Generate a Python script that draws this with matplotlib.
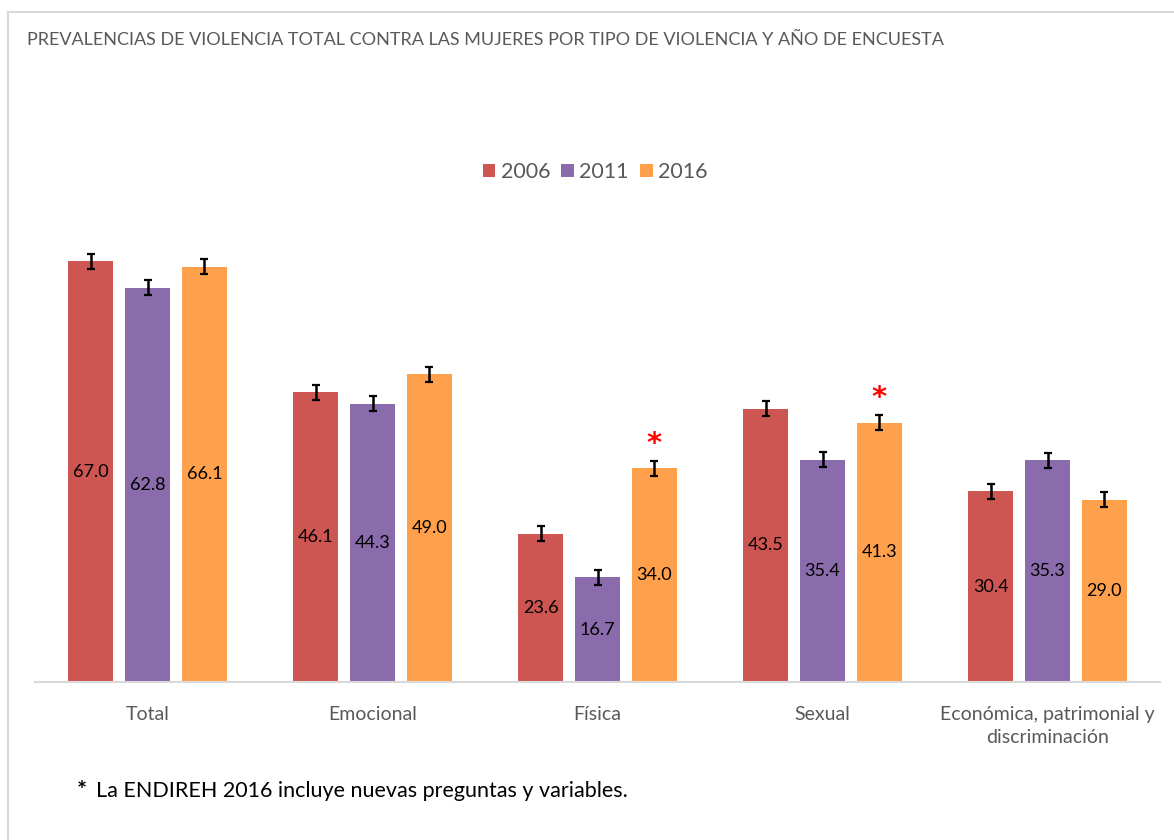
import numpy as np
import matplotlib.pyplot as plt
from matplotlib.lines import Line2D

plt.rcParams["font.family"] = ["Lato", "DejaVu Sans"]

categories = ["Total", "Emocional", "Física", "Sexual",
              "Económica, patrimonial y\ndiscriminación"]
years = ["2006", "2011", "2016"]
values_2006 = [67.0, 46.1, 23.6, 43.5, 30.4]
values_2011 = [62.8, 44.3, 16.7, 35.4, 35.3]
values_2016 = [66.1, 49.0, 34.0, 41.3, 29.0]
errors_2006 = [1.2, 1.2, 1.2, 1.2, 1.2]
errors_2011 = [1.2, 1.2, 1.2, 1.2, 1.2]
errors_2016 = [1.2, 1.2, 1.2, 1.2, 1.2]
# categories flagged with the asterisk (2016 series)
flagged_2016 = [False, False, True, True, False]

colors = ["#CD5653", "#8A6CAC", "#FFA04D"]
series = [values_2006, values_2011, values_2016]
errors = [errors_2006, errors_2011, errors_2016]

fig = plt.figure(figsize=(11.74, 8.4), dpi=100)

# light frame lines (top and left)
fig.add_artist(Line2D([8 / 1174, 1], [1 - 12 / 840, 1 - 12 / 840],
                      color="#D9D9D9", lw=1.5, transform=fig.transFigure))
fig.add_artist(Line2D([8 / 1174, 8 / 1174], [0, 1 - 12 / 840],
                      color="#D9D9D9", lw=1.5, transform=fig.transFigure))

ax = fig.add_axes([35 / 1174, (840 - 682) / 840, 1125 / 1174, 482 / 840])

x = np.arange(len(categories))
width = 0.2
offset = 0.253

for i, (vals, errs, col, yr) in enumerate(zip(series, errors, colors, years)):
    pos = x + (i - 1) * offset
    bars = ax.bar(pos, vals, width, color=col, label=yr, zorder=2)
    ax.errorbar(pos, vals, yerr=errs, fmt="none", ecolor="black",
                elinewidth=1.8, capsize=2.8, capthick=1.6, zorder=3)
    for b, v in zip(bars, vals):
        ax.text(b.get_x() + b.get_width() / 2, v / 2, f"{v:.1f}",
                ha="center", va="center", fontsize=13, color="black")

pos16 = x + offset
for p, v, e, f in zip(pos16, values_2016, errors_2016, flagged_2016):
    if f:
        ax.text(p, v + e + 0.5, "*", ha="center", va="bottom",
                fontsize=21, fontweight="bold", color="red",
                family="DejaVu Sans")

ax.set_xlim(-0.5, len(categories) - 0.5)
ax.set_ylim(0, 76.75)
ax.set_xticks(x)
ax.set_xticklabels(categories, fontsize=14, color="#595959",
                   linespacing=1.45)
ax.tick_params(axis="x", length=0, pad=17)
ax.set_yticks([])
for s in ["top", "right", "left"]:
    ax.spines[s].set_visible(False)
ax.spines["bottom"].set_color("#D9D9D9")
ax.spines["bottom"].set_linewidth(1.5)

leg = fig.legend(loc="center", bbox_to_anchor=(595 / 1174, 1 - 172 / 840),
                 ncol=3, frameon=False, fontsize=15.5, handlelength=0.6,
                 handleheight=0.6, handletextpad=0.25, columnspacing=0.5)
for t in leg.get_texts():
    t.set_color("#595959")

fig.text(27 / 1174, 1 - 40 / 840,
         "PREVALENCIAS DE VIOLENCIA TOTAL CONTRA LAS MUJERES POR TIPO DE "
         "VIOLENCIA Y AÑO DE ENCUESTA",
         ha="left", va="center", fontsize=13, color="#595959")

fig.text(77 / 1174, 1 - 791 / 840, "*", ha="left", va="center",
         fontsize=17, fontweight="bold", color="black")
fig.text(96 / 1174, 1 - 791 / 840,
         "La ENDIREH 2016 incluye nuevas preguntas y variables.",
         ha="left", va="center", fontsize=15.5, color="black")

fig.savefig("out.png", dpi=100)
